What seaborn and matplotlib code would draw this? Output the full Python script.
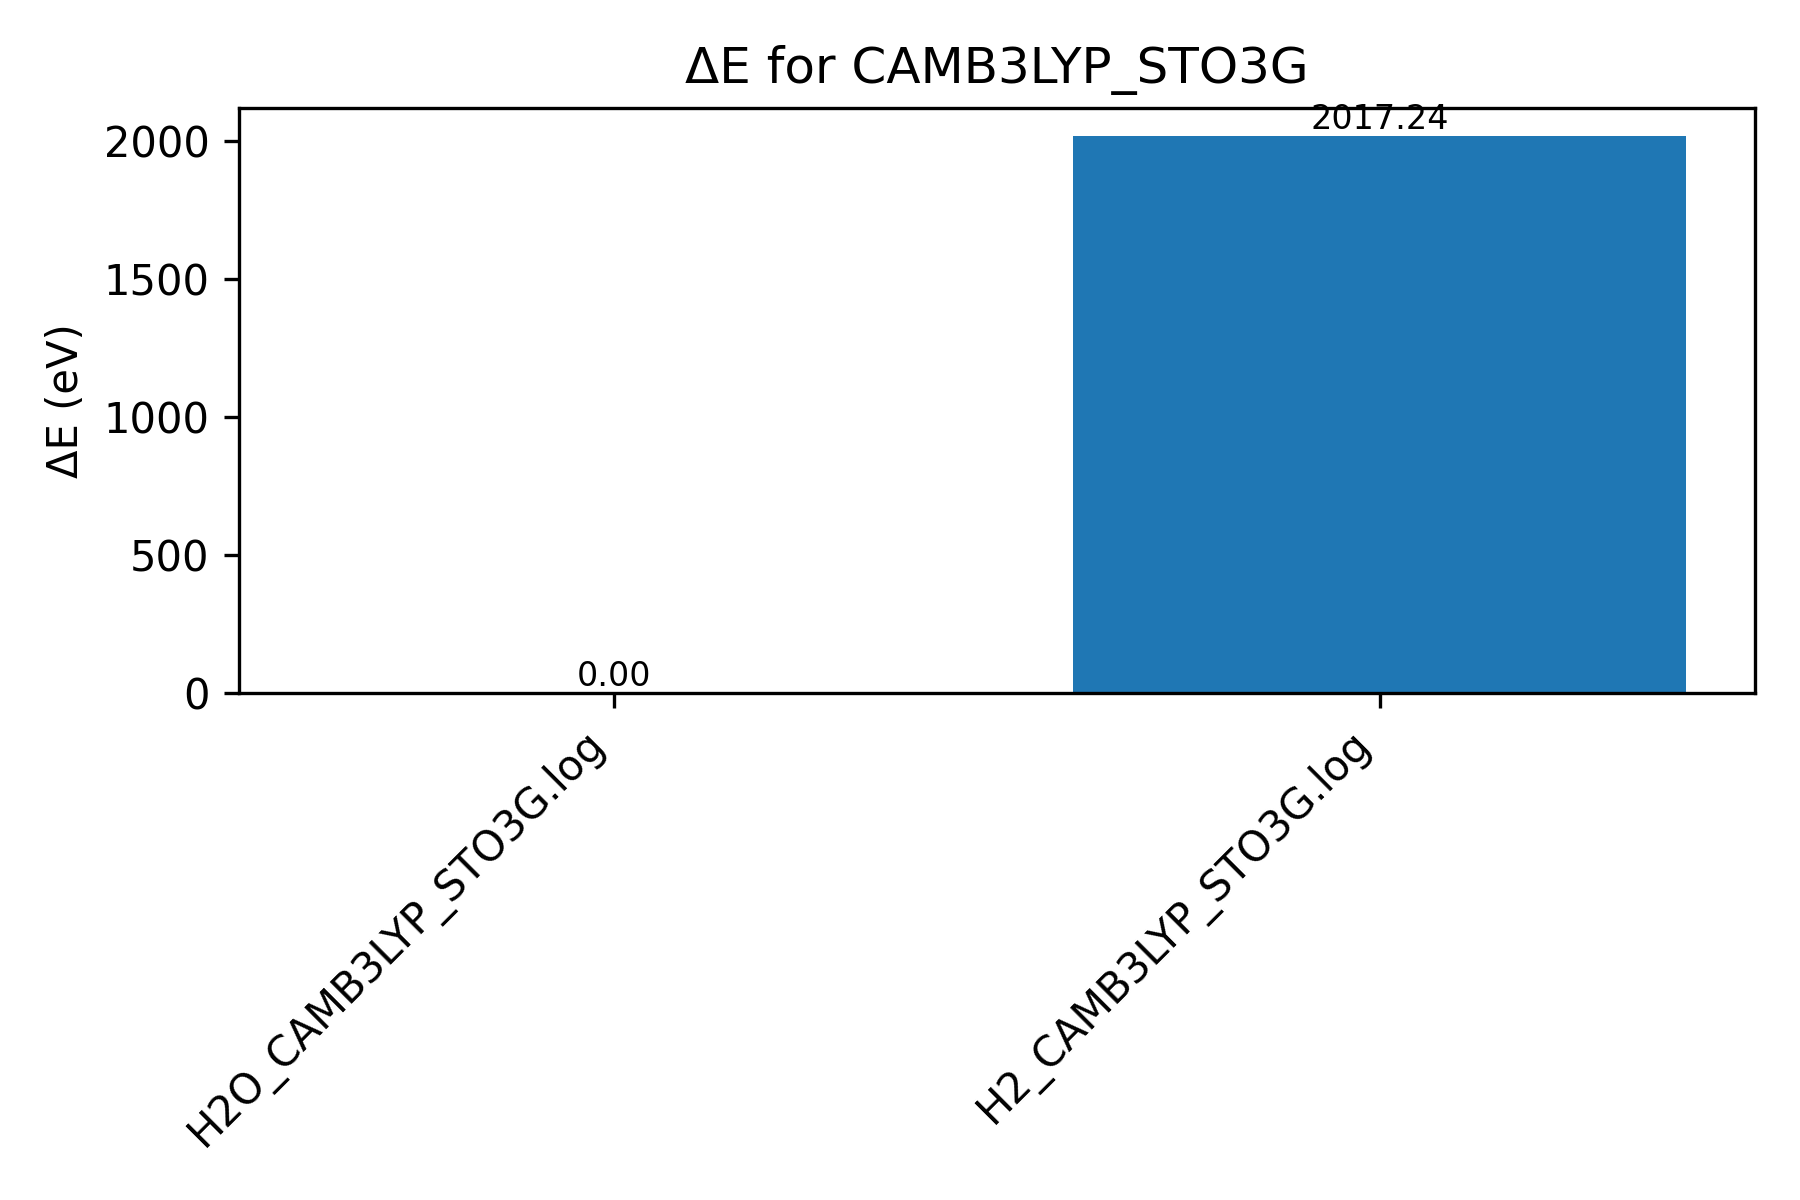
import matplotlib
matplotlib.use("Agg")
import matplotlib.pyplot as plt
import seaborn as sns
import pandas as pd

files = ["H2O_CAMB3LYP_STO3G.log", "H2_CAMB3LYP_STO3G.log"]
delta_e = [0.00, 2017.24]

df = pd.DataFrame({"file": files, "dE": delta_e})

fig, ax = plt.subplots(figsize=(6, 4), dpi=300)
sns.barplot(data=df, x="file", y="dE", color="#1f77b4", saturation=1, width=0.8, ax=ax)
for c in ax.containers:
    ax.bar_label(c, fmt="%.2f", fontsize=8)
ax.set_xlim(-0.49, 1.49)
ax.set_ylim(0, max(delta_e) * 1.05)
ax.set_title("ΔE for CAMB3LYP_STO3G")
ax.set_ylabel("ΔE (eV)")
ax.set_xlabel("")
plt.setp(ax.get_xticklabels(), rotation=45, ha="right")
fig.tight_layout()
fig.savefig("out.png", dpi=300)
